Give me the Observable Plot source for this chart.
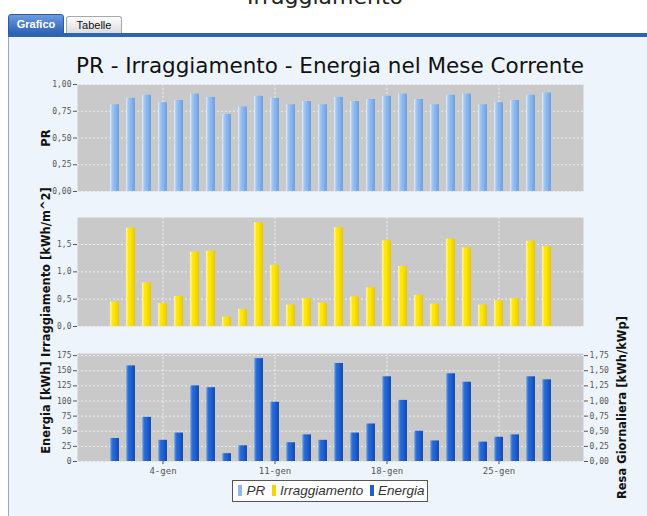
<!DOCTYPE html>
<html><head><meta charset="utf-8">
<script src="https://cdn.jsdelivr.net/npm/d3@7"></script>
<script src="https://cdn.jsdelivr.net/npm/@observablehq/plot@0.6"></script>
<style>
body{margin:0;background:#fff;}
#root{position:relative;width:647px;height:516px;overflow:hidden;font-family:"DejaVu Sans",sans-serif;}
#toptitle{position:absolute;left:0;width:650px;top:-14px;text-align:center;font-size:22px;line-height:22px;color:#222;}
.tab{position:absolute;box-sizing:border-box;text-align:center;font-family:"Liberation Sans",Arial,sans-serif;font-size:11px;border-radius:3px 3px 0 0;}
#tab1{left:8px;top:14px;width:56px;height:20px;line-height:19px;background:linear-gradient(#6b9be0,#2f64b6);color:#fff;font-weight:bold;border:1px solid #2a5aa8;}
#tab2{left:66px;top:16px;width:56px;height:18px;line-height:16px;background:linear-gradient(#fdfdfd,#dadada);color:#111;border:1px solid #a8a8a8;border-bottom:none;}
#strip{position:absolute;left:8px;top:33px;width:639px;height:4px;background:#2e62b2;}
#panelbg{position:absolute;left:8px;top:37px;width:639px;height:479px;background:#eef4fc;border-left:1px solid #9aa8b8;box-sizing:border-box;}
#ctitle{position:absolute;left:60px;width:540px;top:54px;line-height:24px;text-align:center;font-size:21.5px;color:#111;white-space:nowrap;}
.pl{position:absolute;left:0;}
#legend{position:absolute;left:232px;top:480px;width:196px;height:22px;box-sizing:border-box;border:1px solid #555;background:#fff;
  font-family:"Liberation Sans",Arial,sans-serif;font-style:italic;font-size:13.5px;line-height:20px;color:#333;text-align:center;white-space:nowrap;}
#legend .sw{display:inline-block;width:4px;height:11px;margin:0 4px 0 3px;vertical-align:-1px;}
</style></head>
<body><div id="root">
<div id="toptitle">Irraggiamento</div>
<div id="tab1" class="tab">Grafico</div>
<div id="tab2" class="tab">Tabelle</div>
<div id="strip"></div>
<div id="panelbg"></div>
<div id="ctitle">PR - Irraggiamento - Energia nel Mese Corrente</div>
<div id="p1" class="pl" style="top:74px"></div>
<div id="p2" class="pl" style="top:207px"></div>
<div id="p3" class="pl" style="top:343px"></div>
<div id="legend"></div>
</div>
<script>
// ---- data ----
const days = [1,2,3,4,5,6,7,8,9,10,11,12,13,14,15,16,17,18,19,20,21,22,23,24,25,26,27,28];
const monthAbbr = "gen";
const pr = [0.81,0.87,0.90,0.83,0.85,0.91,0.88,0.72,0.79,0.89,0.87,0.81,0.84,0.81,0.88,0.84,0.86,0.89,0.91,0.86,0.81,0.90,0.91,0.81,0.83,0.85,0.90,0.92];
const irr = [0.45,1.80,0.80,0.42,0.55,1.36,1.38,0.17,0.31,1.90,1.12,0.39,0.51,0.43,1.81,0.54,0.71,1.57,1.10,0.57,0.41,1.60,1.44,0.39,0.47,0.51,1.56,1.46];
const energia = [38,158,73,35,47,125,122,13,26,170,98,31,44,35,162,47,62,140,101,50,34,145,131,32,40,44,140,135];
const xTicks = [4,11,18,25];
const prTicks = [0,0.25,0.5,0.75,1];
const irrTicks = [0,0.5,1,1.5];
const enTicks = [0,25,50,75,100,125,150,175];
const resaTicks = [0,0.25,0.5,0.75,1,1.25,1.5,1.75];
const kWp = 100;
const seriesNames = ["PR","Irraggiamento","Energia"];
const seriesLabels = ["PR","Irraggiamento [kWh/m^2]","Energia [kWh]"];
const resaLabel = "Resa Giornaliera [kWh/kWp]";

// ---- styling ----
const grads = {
  gPR: [[0,"#e4efff"],[0.22,"#a4c8f4"],[0.6,"#86b4ec"],[1,"#6d9fe2"]],
  gIR: [[0,"#fffbc8"],[0.22,"#ffea10"],[0.6,"#f8df00"],[1,"#e9c600"]],
  gEN: [[0,"#9ab9ee"],[0.22,"#2c70da"],[0.6,"#1d5fcf"],[1,"#1449b0"]]
};
const swatch = ["#8db9ee","#f2d600","#1d5fcf"];
const comma = (d, n) => d.toFixed(n).replace(".", ",");
const W = 647, ML = 77, MR = 64;
const gridStyle = {stroke: "#eeeeee", strokeOpacity: 1, strokeDasharray: "2,2"};
const labelStyle = {rotate: -90, textAnchor: "middle", lineAnchor: "middle", fontWeight: "bold", fontSize: 11.5, fontFamily: "DejaVu Sans", fill: "#111"};

function addGradient(svg, id) {
  const defs = d3.select(svg).insert("defs", ":first-child");
  const g = defs.append("linearGradient").attr("id", id).attr("x1", 0).attr("x2", 1).attr("y1", 0).attr("y2", 0);
  grads[id].forEach(([o, c]) => g.append("stop").attr("offset", o).attr("stop-color", c));
}

function panel(o) {
  const data = days.map((d, i) => ({day: d, v: o.values[i]}));
  const marks = [
    Plot.frame({fill: "#c9c9c9", stroke: null}),
    Plot.gridY(o.yTicks, gridStyle),
    Plot.gridX(xTicks, gridStyle),
    Plot.barY(data, {x: "day", y: "v", fill: `url(#${o.grad})`}),
    Plot.axisY(o.yTicks, {anchor: "left", tickFormat: o.yFmt, tickSize: 4, tickPadding: 2, color: "#555", label: null}),
    Plot.text([o.label], {frameAnchor: "left", dx: -31, ...labelStyle})
  ];
  if (o.xAxis) {
    marks.push(Plot.axisX(xTicks, {tickFormat: d => `${d}-${monthAbbr}`, tickSize: 3, tickPadding: 3, color: "#555", fontSize: 9, label: null}));
  }
  if (o.right) marks.push(...o.right);
  const svg = Plot.plot({
    width: W, height: o.height,
    marginLeft: ML, marginRight: MR, marginTop: o.mt, marginBottom: o.mb,
    style: {background: "transparent", overflow: "visible", fontFamily: "DejaVu Sans Mono", fontSize: "8px"},
    x: {type: "band", domain: days, paddingInner: 0.45, paddingOuter: 1.64, align: 0.5, axis: null},
    y: {domain: o.yDomain, axis: null},
    marks
  });
  addGradient(svg, o.grad);
  document.getElementById(o.host).appendChild(svg);
}

panel({host: "p1", values: pr, yDomain: [0, 1], yTicks: prTicks, yFmt: d => comma(d, 2),
  label: seriesLabels[0], grad: "gPR", height: 123, mt: 10, mb: 6});
panel({host: "p2", values: irr, yDomain: [0, 1.995], yTicks: irrTicks, yFmt: d => comma(d, 1),
  label: seriesLabels[1], grad: "gIR", height: 125, mt: 10, mb: 6});
panel({host: "p3", values: energia, yDomain: [0, 178.5], yTicks: enTicks, yFmt: d => String(d),
  label: seriesLabels[2], grad: "gEN", height: 148, mt: 10, mb: 30, xAxis: true,
  right: [
    Plot.axisY(resaTicks.map(r => r * kWp), {anchor: "right", tickFormat: d => comma(d / kWp, 2), tickSize: 4, tickPadding: 2, color: "#555", label: null}),
    Plot.text([resaLabel], {frameAnchor: "right", dx: 39, ...labelStyle})
  ]});

// legend
const lg = document.getElementById("legend");
seriesNames.forEach((n, i) => {
  const s = document.createElement("span"); s.className = "sw"; s.style.background = swatch[i];
  lg.appendChild(s);
  lg.appendChild(document.createTextNode(n + (i < seriesNames.length - 1 ? " " : "")));
});
</script>
</body></html>
